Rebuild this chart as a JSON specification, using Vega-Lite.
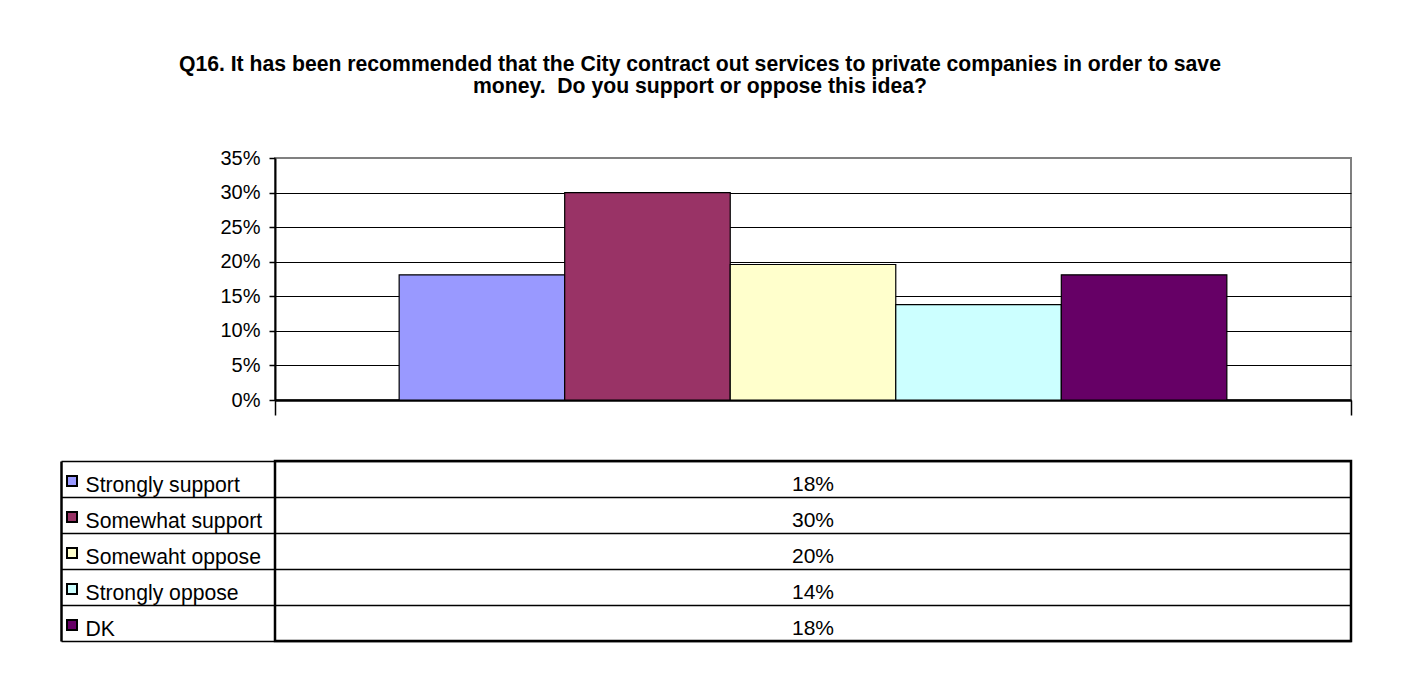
{
  "$schema": "https://vega.github.io/schema/vega-lite/v6.json",
  "padding": {"left": 59, "top": 53, "right": 0, "bottom": 0},
  "background": "white",
  "config": {"font": "Liberation Sans", "view": {"stroke": null}},
  "title": {
    "text": [
      "Q16. It has been recommended that the City contract out services to private companies in order to save",
      "money.\u00a0 Do you support or oppose this idea?"
    ],
    "fontSize": 21.2,
    "fontWeight": "bold",
    "color": "black",
    "lineHeight": 22,
    "anchor": "middle",
    "dx": -6,
    "offset": 50
  },
  "data": {
    "values": [
      {"question": "Q16", "response": "Strongly support", "share": 0.181},
      {"question": "Q16", "response": "Somewhat support", "share": 0.3},
      {"question": "Q16", "response": "Somewaht oppose", "share": 0.196},
      {"question": "Q16", "response": "Strongly oppose", "share": 0.138},
      {"question": "Q16", "response": "DK", "share": 0.181}
    ]
  },
  "resolve": {"scale": {"x": "independent", "y": "independent"}},
  "spacing": 25,
  "vconcat": [
    {
      "width": 1076,
      "height": 242,
      "view": {"stroke": "#808080", "strokeWidth": 2},
      "mark": {"type": "bar", "stroke": "black", "strokeWidth": 1.2},
      "encoding": {
        "x": {
          "field": "question",
          "type": "nominal",
          "scale": {"paddingInner": 0, "paddingOuter": 0},
          "axis": {
            "title": null,
            "labels": false,
            "tickBand": "extent",
            "tickSize": 15,
            "tickColor": "black",
            "tickWidth": 1.5,
            "domainColor": "black",
            "domainWidth": 2.5,
            "grid": false
          }
        },
        "xOffset": {
          "field": "response",
          "type": "nominal",
          "sort": null,
          "scale": {"paddingInner": 0, "paddingOuter": 0.75}
        },
        "y": {
          "field": "share",
          "type": "quantitative",
          "scale": {"domain": [0, 0.35], "nice": false},
          "axis": {
            "title": null,
            "values": [0, 0.05, 0.1, 0.15, 0.2, 0.25, 0.3, 0.35],
            "format": ".0%",
            "labelFontSize": 20,
            "labelColor": "black",
            "labelPadding": 9,
            "tickSize": 6,
            "tickColor": "black",
            "tickWidth": 1.5,
            "domainColor": "black",
            "domainWidth": 2,
            "gridColor": "black",
            "gridWidth": 1.2,
            "gridOpacity": {"condition": {"test": "datum.value >= 0.35", "value": 0}, "value": 1}
          }
        },
        "color": {
          "field": "response",
          "type": "nominal",
          "sort": null,
          "scale": {
            "domain": ["Strongly support", "Somewhat support", "Somewaht oppose", "Strongly oppose", "DK"],
            "range": ["#9999FF", "#993366", "#FFFFCC", "#CCFFFF", "#660066"]
          },
          "legend": null
        }
      }
    },
    {
      "width": 1076,
      "height": 180,
      "view": {"stroke": "black", "strokeWidth": 2.5},
      "encoding": {
        "y": {
          "field": "response",
          "type": "nominal",
          "sort": null,
          "scale": {"paddingInner": 0, "paddingOuter": 0},
          "axis": {
            "title": null,
            "offset": 214,
            "domain": true,
            "domainColor": "black",
            "domainWidth": 2.5,
            "ticks": true,
            "tickBand": "extent",
            "tickSize": -214,
            "tickColor": "black",
            "tickWidth": 1.3,
            "grid": true,
            "gridColor": "black",
            "gridWidth": 1.3,
            "labels": true,
            "labelAlign": "left",
            "labelBaseline": "alphabetic",
            "labelPadding": 190,
            "labelOffset": 12,
            "labelFontSize": 21.2,
            "labelColor": "black",
            "labelLimit": 0
          }
        }
      },
      "layer": [
        {
          "mark": {"type": "text", "dy": 6, "fontSize": 21, "color": "black"},
          "encoding": {"text": {"field": "share", "type": "quantitative", "format": ".0%"}}
        },
        {
          "mark": {
            "type": "point",
            "shape": "square",
            "filled": true,
            "size": 100,
            "opacity": 1,
            "stroke": "black",
            "strokeWidth": 2,
            "xOffset": -741,
            "yOffset": 2
          },
          "encoding": {
            "color": {
              "field": "response",
              "type": "nominal",
              "sort": null,
              "scale": {
                "domain": ["Strongly support", "Somewhat support", "Somewaht oppose", "Strongly oppose", "DK"],
                "range": ["#9999FF", "#993366", "#FFFFCC", "#CCFFFF", "#660066"]
              },
              "legend": null
            }
          }
        }
      ]
    }
  ]
}
